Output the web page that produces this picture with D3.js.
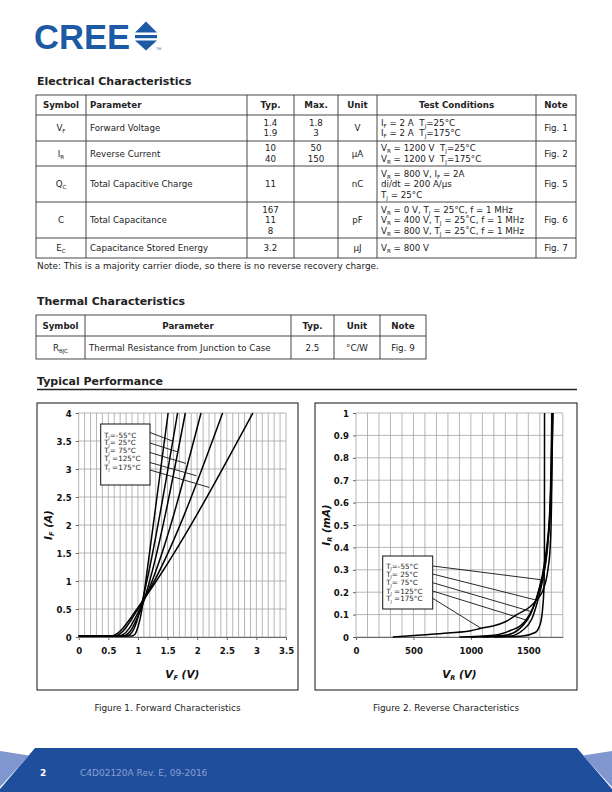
<!DOCTYPE html>
<html>
<head>
<meta charset="utf-8">
<script src="https://cdn.jsdelivr.net/npm/d3@7"></script>
<style>
body { margin: 0; background: #fff; }
svg { display: block; }
text { white-space: pre; }
</style>
</head>
<body>
<div id="page"></div>
<script>
// ---- table data ----
var elecHeader = ["Symbol", "Parameter", "Typ.", "Max.", "Unit", "Test Conditions", "Note"];
var elecSymbol = ["V_{F}", "I_{R}", "Q_{C}", "C", "E_{C}"];
var elecParam = ["Forward Voltage", "Reverse Current", "Total Capacitive Charge", "Total Capacitance", "Capacitance Stored Energy"];
var elecTyp = [["1.4", "1.9"], ["10", "40"], ["11"], ["167", "11", "8"], ["3.2"]];
var elecMax = [["1.8", "3"], ["50", "150"], [], [], []];
var elecUnit = ["V", "μA", "nC", "pF", "μJ"];
var elecCond = [
    ["I_{F} = 2 A  T_{J}=25°C", "I_{F} = 2 A  T_{J}=175°C"],
    ["V_{R} = 1200 V  T_{J}=25°C", "V_{R} = 1200 V  T_{J}=175°C"],
    ["V_{R} = 800 V, I_{F} = 2A", "di/dt = 200 A/μs", "T_{J} = 25°C"],
    ["V_{R} = 0 V, T_{J} = 25°C, f = 1 MHz", "V_{R} = 400 V, T_{J} = 25˚C, f = 1 MHz", "V_{R} = 800 V, T_{J} = 25˚C, f = 1 MHz"],
    ["V_{R} = 800 V"]
];
var elecNote = ["Fig. 1", "Fig. 2", "Fig. 5", "Fig. 6", "Fig. 7"];
var elecFootnote = "Note: This is a majority carrier diode, so there is no reverse recovery charge.";

var thermHeader = ["Symbol", "Parameter", "Typ.", "Unit", "Note"];
var thermRow = ["R_{θJC}", "Thermal Resistance from Junction to Case", "2.5", "°C/W", "Fig. 9"];

// ---- figure 1: forward characteristics, [V_F (V), I_F (A)] ----
var fwdTicksX = [0, 0.5, 1, 1.5, 2, 2.5, 3, 3.5];
var fwdTicksY = [0, 0.5, 1, 1.5, 2, 2.5, 3, 3.5, 4];
var fwdCurveA = [[0, 0.02], [0.9, 0.02], [0.95, 0.05], [1.0, 0.18], [1.06, 0.45], [1.12, 0.9], [1.51, 4]];
var fwdCurve55 = [[0, 0.02], [0.8, 0.02], [0.87, 0.05], [0.94, 0.16], [1.0, 0.35], [1.06, 0.58], [1.13, 0.9], [1.67, 4]];
var fwdCurve25 = [[0, 0.02], [0.75, 0.02], [0.82, 0.05], [0.9, 0.15], [0.98, 0.32], [1.06, 0.52], [1.13, 0.75], [1.8, 4]];
var fwdCurve75 = [[0, 0.02], [0.68, 0.02], [0.76, 0.05], [0.85, 0.15], [0.95, 0.33], [1.05, 0.54], [1.13, 0.72], [2.065, 4]];
var fwdCurve125 = [[0, 0.02], [0.62, 0.02], [0.7, 0.06], [0.8, 0.17], [0.9, 0.33], [1.0, 0.5], [1.13, 0.72], [2.43, 4]];
var fwdCurve175 = [[0, 0.02], [0.56, 0.02], [0.65, 0.06], [0.75, 0.16], [0.85, 0.3], [0.95, 0.45], [1.05, 0.6], [1.13, 0.72], [2.94, 4]];
var fwdLabels = ["T_{J}=-55°C", "T_{J}= 25°C", "T_{J}= 75°C", "T_{J} =125°C", "T_{J} =175°C"];
var fwdLeaderI = [3.5, 3.31, 3.1, 2.88, 2.67];

// ---- figure 2: reverse characteristics, [V_R (V), I_R (mA)] ----
var revTicksX = [0, 500, 1000, 1500];
var revTicksY = [0, 0.1, 0.2, 0.3, 0.4, 0.5, 0.6, 0.7, 0.8, 0.9, 1];
var revCurve55 = [[1200, 0], [1450, 0.005], [1560, 0.02], [1605, 0.06], [1625, 0.13], [1636, 0.22], [1640, 0.35], [1641, 1]];
var revCurve25 = [[1100, 0], [1350, 0.005], [1450, 0.03], [1530, 0.08], [1582, 0.163], [1630, 0.27], [1670, 0.42], [1695, 0.65], [1705, 1]];
var revCurve75 = [[1000, 0], [1300, 0.008], [1420, 0.035], [1490, 0.075], [1529, 0.113], [1580, 0.19], [1640, 0.33], [1685, 0.55], [1710, 1]];
var revCurve125 = [[900, 0], [1200, 0.008], [1350, 0.03], [1430, 0.05], [1480, 0.076], [1540, 0.13], [1600, 0.22], [1660, 0.38], [1700, 0.65], [1715, 1]];
var revCurve175 = [[320, 0], [600, 0.01], [800, 0.018], [1000, 0.028], [1088, 0.039], [1200, 0.05], [1300, 0.068], [1400, 0.1], [1515, 0.135], [1580, 0.17], [1628, 0.21], [1670, 0.3], [1690, 0.4], [1702, 0.6], [1711, 1]];
var revLabels = ["T_{J}=-55°C", "T_{J}= 25°C", "T_{J}= 75°C", "T_{J} =125°C", "T_{J} =175°C"];
var revLeaderI = [0.254, 0.163, 0.113, 0.076, 0.039];

var ink = "#222";
var blue = "#1f4f9c";

var svg = d3.select("#page").append("svg")
    .attr("width", 612)
    .attr("height", 792)
    .style("font-family", "'DejaVu Sans', Verdana, sans-serif");

// text with _{sub} parts
var rich = function (sel, str, dy, size) {
    var shifted = false;
    str.split(/(_\{[^}]*\})/).forEach(function (p) {
        if (p === "") return;
        var m = p.match(/^_\{(.*)\}$/);
        if (m) {
            sel.append("tspan").attr("dy", dy).attr("font-size", size).text(m[1]);
            shifted = true;
        } else {
            var t = sel.append("tspan").text(p);
            if (shifted) {
                t.attr("dy", -dy);
                shifted = false;
            }
        }
    });
    return sel;
}

//logo
var logo = svg.append("g").attr("fill", "#1c5aa6");
logo.append("text")
    .attr("x", 34).attr("y", 48.5)
    .attr("font-family", "'Liberation Sans', Arial, sans-serif")
    .attr("font-weight", "bold")
    .attr("font-size", 35)
    .attr("textLength", 96)
    .attr("lengthAdjust", "spacingAndGlyphs")
    .text("CREE");
logo.append("path").attr("d", "M135,32.5 L146,21.5 L157,32.5 Z");
logo.append("rect").attr("x", 135).attr("y", 35).attr("width", 22).attr("height", 3.2);
logo.append("path").attr("d", "M135,40.5 L157,40.5 L146,50.5 Z");
logo.append("text").attr("x", 156).attr("y", 50).attr("font-size", 3.5).text("TM");

var sectionTitle = function (y, str) {
    svg.append("text")
        .attr("x", 37).attr("y", y)
        .attr("font-size", 11)
        .attr("font-weight", "bold")
        .attr("fill", ink)
        .text(str);
}

// generic table
var drawTable = function (cols, rows, header, headAlign, body, bodyAlign) {
    var g = svg.append("g").attr("fill", ink).attr("font-size", 8.7);
    g.append("rect")
        .attr("x", cols[0]).attr("y", rows[0])
        .attr("width", cols[cols.length - 1] - cols[0])
        .attr("height", rows[rows.length - 1] - rows[0])
        .attr("fill", "none").attr("stroke", "#333").attr("stroke-width", 0.9);
    rows.slice(1, -1).forEach(function (y) {
        g.append("line").attr("x1", cols[0]).attr("x2", cols[cols.length - 1])
            .attr("y1", y).attr("y2", y).attr("stroke", "#333").attr("stroke-width", 0.9);
    });
    cols.slice(1, -1).forEach(function (x) {
        g.append("line").attr("x1", x).attr("x2", x)
            .attr("y1", rows[0]).attr("y2", rows[rows.length - 1]).attr("stroke", "#333").attr("stroke-width", 0.9);
    });
    var cell = function (ci, ri, lines, align, bold) {
        var x0 = cols[ci], x1 = cols[ci + 1];
        var yc = (rows[ri] + rows[ri + 1]) / 2;
        var lh = 10.4;
        lines.forEach(function (s, k) {
            var t = g.append("text")
                .attr("x", align == "left" ? x0 + 4 : (x0 + x1) / 2)
                .attr("y", yc + 3.1 + (k - (lines.length - 1) / 2) * lh)
                .attr("text-anchor", align == "left" ? "start" : "middle")
                .attr("font-weight", bold ? "bold" : null);
            rich(t, s, 2, 5.6);
        });
    }
    header.forEach(function (h, ci) { cell(ci, 0, [h], headAlign[ci], true); });
    body.forEach(function (row, ri) {
        row.forEach(function (c, ci) { cell(ci, ri + 1, c, bodyAlign[ci], false); });
    });
}

sectionTitle(84.5, "Electrical Characteristics");
var elecBody = elecSymbol.map(function (s, i) {
    return [[s], [elecParam[i]], elecTyp[i], elecMax[i], [elecUnit[i]], elecCond[i], [elecNote[i]]];
});
drawTable([36, 86, 247, 294, 338, 377, 536, 576], [95, 115, 141, 166, 202, 238, 258],
    elecHeader, ["c", "left", "c", "c", "c", "c", "c"],
    elecBody, ["c", "left", "c", "c", "c", "left", "c"]);
svg.append("text").attr("x", 37).attr("y", 269).attr("font-size", 8.9).attr("fill", ink).text(elecFootnote);

sectionTitle(304.5, "Thermal Characteristics");
drawTable([36, 85, 291, 334, 380, 426], [315, 336, 359],
    thermHeader, ["c", "c", "c", "c", "c"],
    [thermRow.map(function (s) { return [s]; })], ["c", "left", "c", "c", "c"]);

sectionTitle(384.5, "Typical Performance");
svg.append("line").attr("x1", 37).attr("x2", 577).attr("y1", 389.5).attr("y2", 389.5)
    .attr("stroke", ink).attr("stroke-width", 1.3);

// x on a polyline for a given y (curves are monotone)
var xAtY = function (curve, y) {
    for (var i = 1; i < curve.length; i++) {
        var a = curve[i - 1], b = curve[i];
        if (y >= a[1] && y <= b[1] && b[1] > a[1]) {
            return a[0] + (b[0] - a[0]) * (y - a[1]) / (b[1] - a[1]);
        }
    }
    return curve[curve.length - 1][0];
}

var drawChart = function (cfg) {
    var g = svg.append("g");
    g.append("rect").attr("x", cfg.box[0]).attr("y", cfg.box[1])
        .attr("width", cfg.box[2]).attr("height", cfg.box[3])
        .attr("fill", "#fff").attr("stroke", "#111").attr("stroke-width", 1);

    var p = cfg.plot;
    var x = d3.scaleLinear().domain(cfg.xDomain).range([p.x, p.x + p.w]);
    var y = d3.scaleLinear().domain(cfg.yDomain).range([p.y + p.h, p.y]);

    //grid
    var grid = g.append("g").attr("stroke", "#a3a3a3").attr("stroke-width", 0.8);
    d3.range(cfg.xDomain[0], cfg.xDomain[1] + cfg.xStep / 2, cfg.xStep).forEach(function (v) {
        grid.append("line").attr("x1", x(v)).attr("x2", x(v)).attr("y1", p.y).attr("y2", p.y + p.h);
    });
    d3.range(cfg.yDomain[0], cfg.yDomain[1] + cfg.yStep / 2, cfg.yStep).forEach(function (v) {
        grid.append("line").attr("x1", p.x).attr("x2", p.x + p.w).attr("y1", y(v)).attr("y2", y(v));
    });

    //axes
    var fontAxis = "'Liberation Sans Narrow', 'DejaVu Sans Condensed', sans-serif";
    var ax = g.append("g").attr("transform", "translate(0," + (p.y + p.h) + ")")
        .call(d3.axisBottom(x).tickValues(cfg.xTicks).tickSize(3).tickSizeOuter(0).tickPadding(7)
            .tickFormat(function (d) { return String(d); }));
    var ay = g.append("g").attr("transform", "translate(" + p.x + ",0)")
        .call(d3.axisLeft(y).tickValues(cfg.yTicks).tickSize(3).tickSizeOuter(0).tickPadding(4)
            .tickFormat(function (d) { return String(d); }));
    [ax, ay].forEach(function (a) {
        a.select(".domain").attr("stroke", "#666");
        a.selectAll(".tick line").attr("stroke", "#666");
        a.selectAll("text").attr("font-family", fontAxis).attr("font-weight", "bold")
            .attr("font-size", 9.5).attr("fill", "#111");
    });
    ay.select(".domain").remove();

    //axis titles
    rich(g.append("text")
        .attr("x", p.x + p.w / 2).attr("y", cfg.box[1] + 275)
        .attr("text-anchor", "middle").attr("font-size", 10.5)
        .attr("font-weight", "bold").attr("font-style", "italic").attr("fill", "#111"),
        cfg.xTitle, 2, 6.5);
    rich(g.append("text")
        .attr("transform", "translate(" + (cfg.box[0] + 15) + "," + (p.y + p.h / 2) + ") rotate(-90)")
        .attr("text-anchor", "middle").attr("font-size", 10.5)
        .attr("font-weight", "bold").attr("font-style", "italic").attr("fill", "#111"),
        cfg.yTitle, 2, 6.5);

    //curves
    var line = d3.line()
        .x(function (d) { return x(d[0]); })
        .y(function (d) { return y(d[1]); })
        .curve(d3.curveMonotoneX);
    g.append("g").selectAll("path").data(cfg.curves).join("path")
        .attr("d", line)
        .attr("fill", "none").attr("stroke", "#000").attr("stroke-width", 1.5);

    //legend with leader lines
    var lb = cfg.legendBox;
    var leaders = g.append("g").attr("stroke", "#111").attr("stroke-width", 0.9);
    cfg.leaderCurves.forEach(function (c, i) {
        var yi = cfg.leaderI[i];
        leaders.append("line")
            .attr("x1", lb[0] + lb[2]).attr("y1", cfg.leaderStartY[i])
            .attr("x2", x(xAtY(c, yi))).attr("y2", y(yi));
    });
    g.append("rect").attr("x", lb[0]).attr("y", lb[1]).attr("width", lb[2]).attr("height", lb[3])
        .attr("fill", "#fff").attr("stroke", "#111").attr("stroke-width", 1);
    cfg.labels.forEach(function (s, i) {
        rich(g.append("text")
            .attr("x", lb[0] + 3.5).attr("y", cfg.labelY[i])
            .attr("font-size", 7.2).attr("fill", "#222"), s, 1.5, 4.2);
    });

    svg.append("text").attr("x", cfg.box[0] + cfg.box[2] / 2).attr("y", 710.5)
        .attr("text-anchor", "middle").attr("font-size", 8.9).attr("fill", ink).text(cfg.caption);
}

drawChart({
    box: [37, 403, 261, 287],
    plot: { x: 78.7, y: 413, w: 207.3, h: 224 },
    xDomain: [0, 3.5], yDomain: [0, 4], xStep: 0.1, yStep: 0.5,
    xTicks: fwdTicksX, yTicks: fwdTicksY,
    xTitle: "V_{F} (V)", yTitle: "I_{F} (A)",
    curves: [fwdCurveA, fwdCurve55, fwdCurve25, fwdCurve75, fwdCurve125, fwdCurve175],
    leaderCurves: [fwdCurve55, fwdCurve25, fwdCurve75, fwdCurve125, fwdCurve175],
    leaderI: fwdLeaderI,
    leaderStartY: [432.5, 443, 452.5, 462.5, 470],
    legendBox: [100.7, 424, 49.3, 61],
    labels: fwdLabels,
    labelY: [437.5, 445.3, 453, 461, 469.8],
    caption: "Figure 1. Forward Characteristics"
});

drawChart({
    box: [315, 403, 262, 287],
    plot: { x: 356, y: 413, w: 206.8, h: 224 },
    xDomain: [0, 1800], yDomain: [0, 1], xStep: 100, yStep: 0.1,
    xTicks: revTicksX, yTicks: revTicksY,
    xTitle: "V_{R} (V)", yTitle: "I_{R} (mA)",
    curves: [revCurve55, revCurve25, revCurve75, revCurve125, revCurve175],
    leaderCurves: [revCurve55, revCurve25, revCurve75, revCurve125, revCurve175],
    leaderI: revLeaderI,
    leaderStartY: [566, 574, 582.7, 591, 598.3],
    legendBox: [382.7, 556, 50, 53],
    labels: revLabels,
    labelY: [568.8, 576.5, 585.2, 593.5, 601.2],
    caption: "Figure 2. Reverse Characteristics"
});

//footer band
var foot = svg.append("g");
foot.append("path").attr("d", "M35,748 L577,748 L612,789 L612,792 L0,792 L0,789 Z").attr("fill", blue);
foot.append("path").attr("d", "M0,751 L29,755.5 L0,787 Z").attr("fill", "#8096cf");
foot.append("path").attr("d", "M612,751 L583,755.5 L612,787 Z").attr("fill", "#8096cf");
foot.append("text").attr("x", 40).attr("y", 775.5).attr("font-size", 9)
    .attr("font-weight", "bold").attr("fill", "#fff").text("2");
foot.append("text").attr("x", 80).attr("y", 775.5).attr("font-size", 9)
    .attr("fill", "#8c9fd0").text("C4D02120A Rev. E, 09-2016");
</script>
</body>
</html>
